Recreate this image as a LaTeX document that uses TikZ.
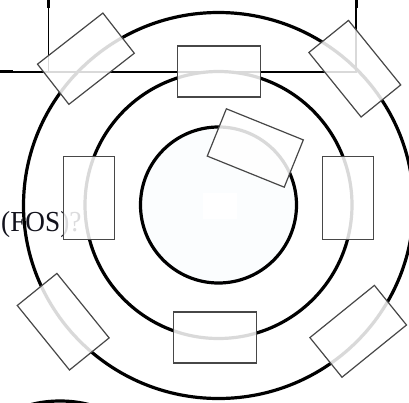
\documentclass[tikz,border=0pt]{standalone}
\usepackage{fontspec}
\setmainfont{Liberation Serif}
\definecolor{innerfill}{RGB}{251,253,254}
\definecolor{txt}{RGB}{18,18,28}
\begin{document}
\begin{tikzpicture}[x=1pt,y=-1pt,
  boxn/.style={draw=black!72, line width=1.2pt, fill=white, fill opacity=0.85,
               minimum width=83pt, minimum height=51pt, inner sep=0pt},
  ring/.style={line width=3.2pt, black},
  rule/.style={line width=1.8pt, black}]
\useasboundingbox (0,0) rectangle (409,402);
\begin{scope}
\clip (0,0) rectangle (409,402);
% faint inner disk and its white patch
\fill[innerfill] (218.5,205) circle[radius=78];
\fill[white] (203,193) rectangle (237,219);
% text
\node[anchor=base west, inner sep=0pt, text=txt,
      font=\fontsize{29}{31}\selectfont] (fos) at (1,231.7)
      {\scalebox{0.94}[1]{(FOS)?}};
% table rules
\draw[rule] (48.5,0) -- (48.5,71.7);
\draw[rule] (356,0) -- (356,71.7) -- (0,71.7);
\draw[line width=3pt] (48.5,0) -- (48.5,8.3);
\draw[line width=3pt] (356,0) -- (356,8.3);
\draw[line width=3pt] (0,71.7) -- (13,71.7);
% rings
\draw[ring] (218.5,205) circle[radius=78];
\draw[ring] (218.5,205) circle[radius=133.5];
\draw[ring] (218.5,205.5) ellipse[x radius=195, y radius=193];
\draw[ring] (60,434) ellipse[x radius=64, y radius=33];
% boxes
\node[boxn] (top) at (218.8,71.5) {};
\node[boxn] (bottom) at (215.3,337.5) {};
\node[boxn, rotate=90] (left) at (89.2,198.3) {};
\node[boxn, rotate=90] (right) at (348.2,198.3) {};
\node[boxn, rotate=38] (topleft) at (85.9,58.7) {};
\node[boxn, rotate=-51] (topright) at (354.8,68.7) {};
\node[boxn, rotate=-51] (bottomleft) at (63.2,321.7) {};
\node[boxn, rotate=39] (bottomright) at (358.2,331.3) {};
\node[boxn, rotate=-22] (centre) at (255.3,148) {};
\end{scope}
\end{tikzpicture}
\end{document}
